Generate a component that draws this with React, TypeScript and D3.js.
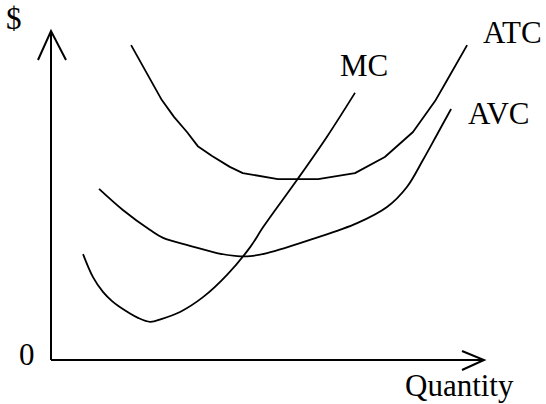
import React from "react";
import * as d3 from "d3";

// Quantity (0–100) vs cost (0–100)
const atcQ = [18.5, 25.6, 28.4, 31.4, 33.9, 37.2, 41.3, 44.3, 52.4, 61.7, 70.2, 77.1, 83.6, 88.7, 91.5, 96.1];
const atcC = [95.7, 79.0, 73.9, 69.3, 65.0, 62.0, 58.7, 56.8, 55.0, 55.0, 56.8, 61.7, 69.3, 78.7, 85.1, 95.7];

const avcQ = [11.1, 16.6, 22.9, 25.9, 32.1, 38.3, 43.0, 46.0, 49.9, 60.5, 70.7, 77.6, 82.2, 85.9, 89.1, 92.4];
const avcC = [52.0, 45.6, 39.5, 37.1, 34.7, 32.5, 31.6, 31.6, 32.5, 36.8, 41.6, 46.5, 52.6, 60.8, 68.4, 76.3];

const mcQ = [7.4, 9.7, 12.0, 14.1, 15.9, 20.1, 22.9, 25.6, 29.8, 35.1, 40.6, 46.0, 49.0, 56.8, 63.7, 70.2];
const mcC = [32.2, 25.2, 20.7, 17.9, 16.1, 12.8, 11.6, 12.5, 14.6, 19.1, 25.8, 34.3, 40.4, 54.7, 67.8, 81.2];

const curveLabels = ["ATC", "AVC", "MC"];
const axisLabels = { y: "$", x: "Quantity", origin: "0" };

const W = 546;
const H = 404;

export default function App() {
  const x = d3.scaleLinear().domain([0, 100]).range([51, 484]);
  const y = d3.scaleLinear().domain([0, 100]).range([360, 31]);
  const mkLine = (curve: d3.CurveFactory) =>
    d3
      .line<[number, number]>()
      .x((d) => x(d[0]))
      .y((d) => y(d[1]))
      .curve(curve);
  const curves = [d3.curveLinear, d3.curveCatmullRom.alpha(0.5), d3.curveCatmullRom.alpha(0.5)];

  const zip = (a: number[], b: number[]) => a.map((v, i) => [v, b[i]] as [number, number]);
  const series = [zip(atcQ, atcC), zip(avcQ, avcC), zip(mcQ, mcC)];

  const x0 = x(0);
  const y0 = y(0);
  const xEnd = x(100);
  const yEnd = y(100);

  const font = "'Liberation Serif', 'Times New Roman', serif";

  return (
    <svg
      width={W}
      height={H}
      style={{ position: "absolute", left: 0, top: 0, background: "#fff" }}
    >
      <rect width={W} height={H} fill="#fff" />
      {/* axes */}
      <g stroke="#000" strokeWidth={2} fill="none" strokeLinecap="butt">
        <line x1={x0} y1={y0} x2={x0} y2={yEnd} />
        <line x1={x0} y1={y0} x2={xEnd} y2={y0} />
        <polyline points={`${x0 - 13},${yEnd + 29} ${x0},${yEnd} ${x0 + 15},${yEnd + 29}`} />
        <polyline points={`${xEnd - 22},${y0 - 9} ${xEnd},${y0} ${xEnd - 22},${y0 + 10}`} />
      </g>
      {/* curves */}
      <g stroke="#000" strokeWidth={1.8} fill="none" strokeLinejoin="round">
        {series.map((s, i) => (
          <path key={curveLabels[i]} d={mkLine(curves[i])(s) || ""} />
        ))}
      </g>
      {/* labels */}
      <g fontFamily={font} fontSize={31} fill="#000">
        <text x={6} y={29}>{axisLabels.y}</text>
        <text x={19} y={365}>{axisLabels.origin}</text>
        <text x={405} y={396}>{axisLabels.x}</text>
        <text x={483} y={43}>{curveLabels[0]}</text>
        <text x={468} y={124}>{curveLabels[1]}</text>
        <text x={340} y={76}>{curveLabels[2]}</text>
      </g>
    </svg>
  );
}
